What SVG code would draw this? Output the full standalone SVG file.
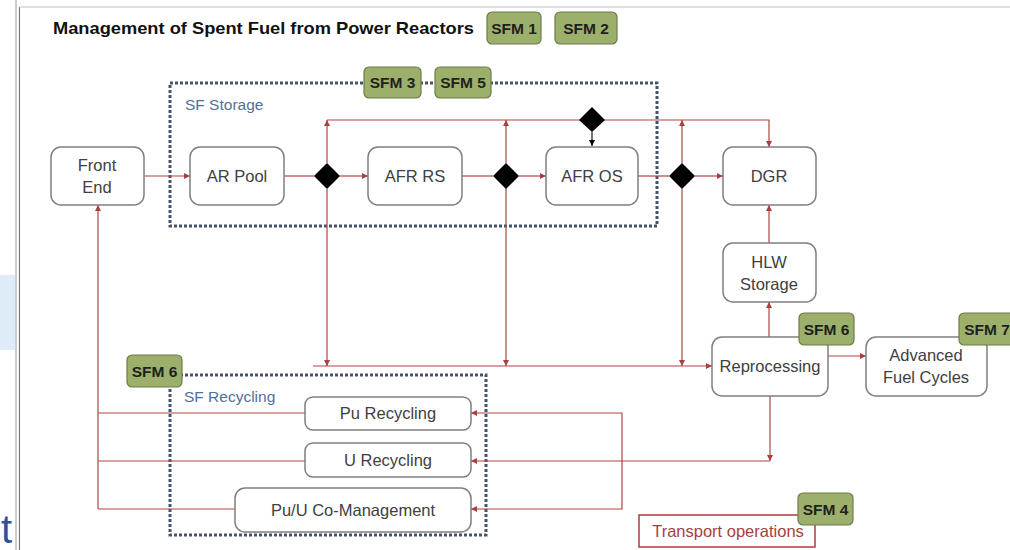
<svg xmlns="http://www.w3.org/2000/svg" width="1010" height="550" viewBox="0 0 1010 550">
<style>
.box{fill:#fff;stroke:#7f7f7f;stroke-width:1.5}
.lbl{font-family:"Liberation Sans",Arial,sans-serif;font-size:16.5px;fill:#404040;text-anchor:middle}
.sfm rect{fill:#9caf6b;stroke:#6e7d4a;stroke-width:1.2}
.sfm text{font-family:"Liberation Sans",Arial,sans-serif;font-size:15.5px;font-weight:bold;fill:#1f1f1f;text-anchor:middle}
.grp{fill:none;stroke:#44546a;stroke-width:3;stroke-dasharray:3 2}
.grpl{font-family:"Liberation Sans",Arial,sans-serif;font-size:15.5px;fill:#52709a}
.ln{fill:none;stroke:#ad4544;stroke-width:1.2}
.arr{marker-end:url(#ah)}
.dia{fill:#000}
</style>
<defs>
<marker id="ah" markerUnits="userSpaceOnUse" markerWidth="6" markerHeight="6" refX="6" refY="3" orient="auto"><path d="M0,0 L6,3 L0,6 z" fill="#a8403f"/></marker>
<marker id="ahk" markerUnits="userSpaceOnUse" markerWidth="6" markerHeight="6" refX="6" refY="3" orient="auto"><path d="M0,0 L6,3 L0,6 z" fill="#000"/></marker>
</defs>
<rect width="1010" height="550" fill="#fff"/>
<!-- page frame artifacts -->
<rect x="0" y="275" width="15" height="75" fill="#deebf9"/>
<line x1="16" y1="0" x2="16" y2="550" stroke="#9a9a9a" stroke-width="1"/>
<line x1="19.5" y1="7" x2="19.5" y2="550" stroke="#7a7a7a" stroke-width="1.2"/>
<line x1="19" y1="7" x2="1010" y2="7" stroke="#c0c0c0" stroke-width="1.2"/>
<text x="1" y="543" font-family="Liberation Sans,Arial,sans-serif" font-size="40" fill="#2f4fa2">t</text>

<text x="53" y="34" font-family="Liberation Sans,Arial,sans-serif" font-size="17" font-weight="bold" fill="#111" textLength="421" lengthAdjust="spacingAndGlyphs">Management of Spent Fuel from Power Reactors</text>

<!-- group boundaries -->
<g id="sf-storage">
<rect class="grp" x="170" y="83" width="487" height="143"/>
<text class="grpl" x="185" y="110">SF Storage</text>
</g>
<g id="sf-recycling">
<rect class="grp" x="170" y="375" width="316" height="160"/>
<text class="grpl" x="184" y="402">SF Recycling</text>
</g>

<g id="connectors">
<line class="ln arr" x1="144" y1="176" x2="190" y2="176"/>
<line class="ln" x1="284" y1="176" x2="314" y2="176"/>
<line class="ln arr" x1="340" y1="176" x2="368" y2="176"/>
<line class="ln" x1="462" y1="176" x2="493" y2="176"/>
<line class="ln arr" x1="519" y1="176" x2="546" y2="176"/>
<line class="ln" x1="638" y1="176" x2="669" y2="176"/>
<line class="ln arr" x1="695" y1="176" x2="723" y2="176"/>
<!-- top bypass line -->
<polyline class="ln arr" points="327,120 769,120 769,147"/>
<line class="ln arr" x1="327" y1="163" x2="327" y2="120"/>
<line class="ln arr" x1="506" y1="163" x2="506" y2="120"/>
<line class="ln arr" x1="682" y1="163" x2="682" y2="120"/>
<line x1="592" y1="132" x2="592" y2="146" stroke="#000" stroke-width="1.1" marker-end="url(#ahk)"/>
<!-- down to reprocessing line -->
<line class="ln arr" x1="327" y1="189" x2="327" y2="366"/>
<line class="ln arr" x1="506" y1="188" x2="506" y2="366"/>
<line class="ln arr" x1="682" y1="189" x2="682" y2="366"/>
<line class="ln arr" x1="313" y1="366" x2="712" y2="366"/>
<!-- HLW and reprocessing -->
<line class="ln arr" x1="769" y1="243" x2="769" y2="205"/>
<line class="ln arr" x1="769" y1="337" x2="769" y2="302"/>
<line class="ln arr" x1="828" y1="356" x2="866" y2="356"/>
<line class="ln arr" x1="770" y1="396" x2="770" y2="461"/>
<line class="ln arr" x1="770" y1="461" x2="471" y2="461"/>
<polyline class="ln arr" points="622,461 622,413 471,413"/>
<polyline class="ln arr" points="622,461 622,509 471,509"/>
<!-- recycling back to front end -->
<line class="ln" x1="305" y1="413" x2="98" y2="413"/>
<line class="ln" x1="305" y1="461" x2="98" y2="461"/>
<line class="ln" x1="235" y1="509" x2="98" y2="509"/>
<line class="ln arr" x1="98" y1="509" x2="98" y2="205"/>
</g>

<g id="front-end"><rect class="box" x="51" y="147" width="93" height="58" rx="10"/><text class="lbl" x="97" y="171">Front</text><text class="lbl" x="97" y="193">End</text></g>
<g id="ar-pool"><rect class="box" x="190" y="147" width="94" height="58" rx="10"/><text class="lbl" x="237" y="182">AR Pool</text></g>
<g id="afr-rs"><rect class="box" x="368" y="147" width="94" height="58" rx="10"/><text class="lbl" x="415" y="182">AFR RS</text></g>
<g id="afr-os"><rect class="box" x="546" y="147" width="92" height="58" rx="10"/><text class="lbl" x="592" y="182">AFR OS</text></g>
<g id="dgr"><rect class="box" x="723" y="147" width="93" height="58" rx="10"/><text class="lbl" x="769" y="182">DGR</text></g>
<g id="hlw-storage"><rect class="box" x="723" y="243" width="93" height="59" rx="10"/><text class="lbl" x="769" y="268">HLW</text><text class="lbl" x="769" y="290">Storage</text></g>
<g id="reprocessing"><rect class="box" x="712" y="337" width="116" height="59" rx="10"/><text class="lbl" x="770" y="372">Reprocessing</text></g>
<g id="advanced-fuel-cycles"><rect class="box" x="866" y="337" width="121" height="59" rx="10"/><text class="lbl" x="926" y="361">Advanced</text><text class="lbl" x="926" y="383">Fuel Cycles</text></g>
<g id="pu-recycling"><rect class="box" x="305" y="397" width="166" height="33" rx="8"/><text class="lbl" x="388" y="419">Pu Recycling</text></g>
<g id="u-recycling"><rect class="box" x="305" y="443" width="166" height="34" rx="8"/><text class="lbl" x="388" y="466">U Recycling</text></g>
<g id="pu-u-co-management"><rect class="box" x="235" y="488" width="236" height="44" rx="10"/><text class="lbl" x="353" y="516">Pu/U Co-Management</text></g>
<g id="transport-operations"><rect x="639" y="515" width="176" height="32" fill="#fff" stroke="#a8403f" stroke-width="1.5"/><text x="728" y="537" font-family="Liberation Sans,Arial,sans-serif" font-size="16.5" fill="#a8403f" text-anchor="middle">Transport operations</text></g>

<g id="decision-1"><polygon class="dia" points="327,163 340,176 327,189 314,176"/></g>
<g id="decision-2"><polygon class="dia" points="506,163 519,176 506,189 493,176"/></g>
<g id="decision-3"><polygon class="dia" points="682,163 695,176 682,189 669,176"/></g>
<g id="decision-top"><polygon class="dia" points="592,107 605,120 592,132 579,120"/></g>

<g id="sfm1" class="sfm"><rect x="487" y="12" width="54" height="32" rx="5"/><text x="514" y="33.5">SFM 1</text></g>
<g id="sfm2" class="sfm"><rect x="555" y="12" width="62" height="32" rx="5"/><text x="586" y="33.5">SFM 2</text></g>
<g id="sfm3" class="sfm"><rect x="364" y="67" width="57" height="31" rx="5"/><text x="392.5" y="88">SFM 3</text></g>
<g id="sfm5" class="sfm"><rect x="435" y="67" width="56" height="31" rx="5"/><text x="463" y="88">SFM 5</text></g>
<g id="sfm6-recycling" class="sfm"><rect x="127" y="355" width="55" height="32" rx="5"/><text x="154.5" y="376.5">SFM 6</text></g>
<g id="sfm6-reprocessing" class="sfm"><rect x="799" y="313" width="55" height="32" rx="5"/><text x="826.5" y="334.5">SFM 6</text></g>
<g id="sfm7" class="sfm"><rect x="959" y="313" width="56" height="32" rx="5"/><text x="987" y="334.5">SFM 7</text></g>
<g id="sfm4" class="sfm"><rect x="798" y="493" width="55" height="32" rx="5"/><text x="825.5" y="514.5">SFM 4</text></g>
</svg>
